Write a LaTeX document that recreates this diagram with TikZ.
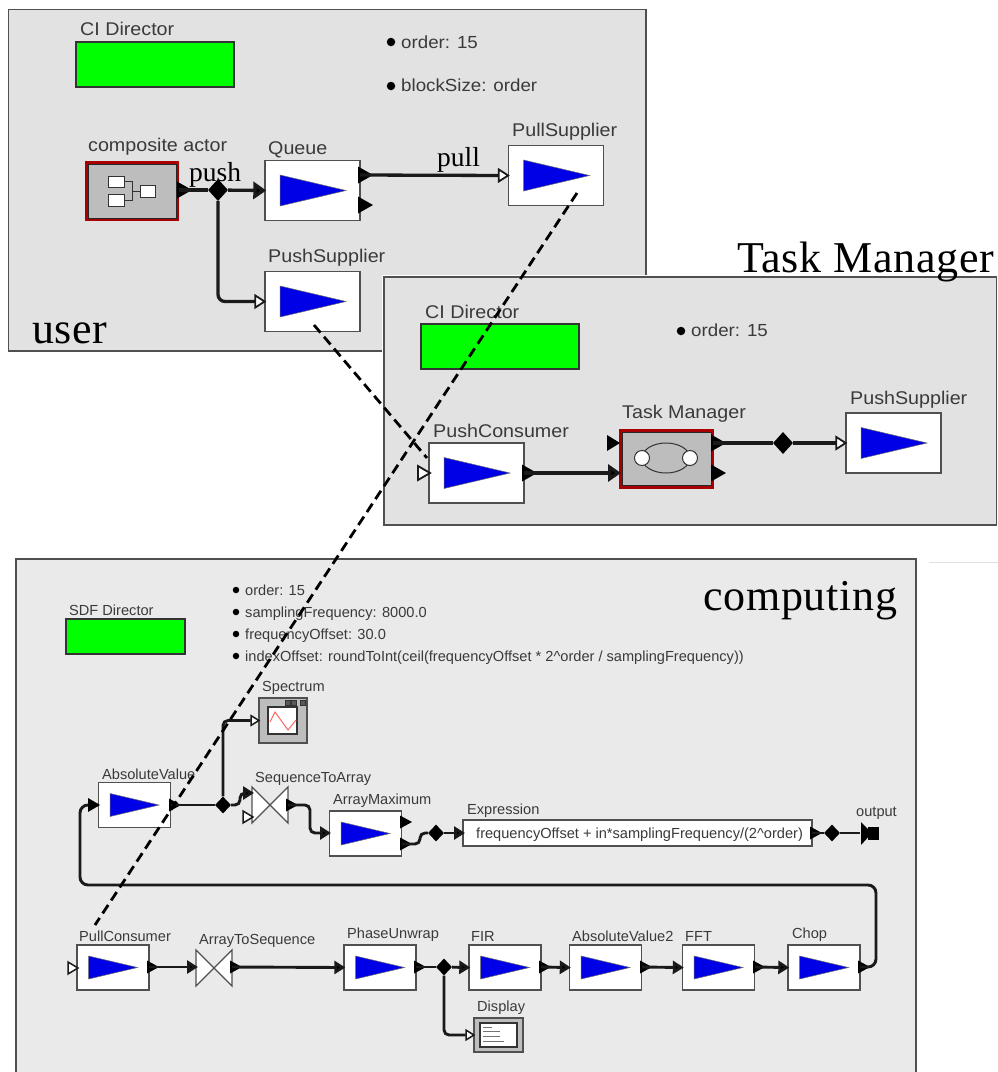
\documentclass[tikz,border=0pt]{standalone}
\usepackage{fontspec}
\setmainfont{Liberation Sans}
\newfontfamily\labf[FakeStretch=1.07]{Liberation Sans}
\newfontfamily\timesf[LetterSpace=1.6]{Liberation Serif}
\newfontfamily\timesm{Liberation Serif}
\usetikzlibrary{arrows.meta,shapes.geometric}
\definecolor{panelA}{HTML}{E2E2E2}
\definecolor{panelB}{HTML}{EAEAEA}
\definecolor{edgec}{HTML}{505050}
\definecolor{txtc}{HTML}{3A3A3A}
\definecolor{wirec}{HTML}{1A1A1A}
\definecolor{dirgreen}{HTML}{00FF00}
\definecolor{triblue}{HTML}{0000E6}
\definecolor{compgray}{HTML}{BDBDBD}
\definecolor{compred}{HTML}{A80000}
\tikzset{
  panelbox/.style={fill=panelA,draw=edgec,line width=1.6pt},
  lbl/.style={anchor=base west,inner sep=0pt,text=txtc,font=\labf\fontsize{18.4}{20}\selectfont},
  lblord/.style={anchor=base west,inner sep=0pt,text=txtc,font=\labf\fontsize{17.5}{20}\selectfont},
  lblsmall/.style={anchor=base west,inner sep=0pt,text=txtc,font=\fontsize{14.6}{16}\selectfont},
  bigtxt/.style={anchor=base west,inner sep=0pt,text=black,font=\timesf\fontsize{44}{46}\selectfont},
  medtxt/.style={anchor=base west,inner sep=0pt,text=black,font=\timesm\fontsize{27.5}{30}\selectfont},
  greenbox/.style={fill=dirgreen,draw=black!80,line width=1.2pt},
  bigbox/.style={rectangle,fill=white,draw=edgec,line width=1.4pt,minimum width=95pt,minimum height=60pt,inner sep=0pt},
  smallbox/.style={rectangle,fill=white,draw=edgec,line width=1.4pt,minimum width=72pt,minimum height=45pt,inner sep=0pt},
  wire/.style={draw=wirec,line width=3.3pt,rounded corners=7pt},
  wiresm/.style={draw=wirec,line width=2.9pt,rounded corners=5pt},
  filledtip/.style={-{Triangle[length=13pt,width=17pt,fill=black]},shorten >=-2pt},
  opentip/.style={-{Triangle[length=12pt,width=15pt,fill=white,line width=1.8pt]},shorten >=-2pt},
  filledtipsm/.style={-{Triangle[length=11pt,width=13pt,fill=black]},shorten >=-2pt},
  opentipsm/.style={-{Triangle[length=10pt,width=12pt,fill=white,line width=1.5pt]},shorten >=-2pt},
  junc/.style={diamond,fill=black,inner sep=0pt,minimum width=20pt,minimum height=22pt},
  juncsm/.style={diamond,fill=black,inner sep=0pt,minimum width=16pt,minimum height=17pt},
  bul/.style={circle,fill=black,inner sep=0pt,minimum size=8.5pt},
  bulsm/.style={circle,fill=black,inner sep=0pt,minimum size=6.5pt},
  dashedconn/.style={draw=black,line width=2.8pt,dash pattern=on 10pt off 5.5pt},
  thinicon/.style={draw=black!80,line width=1pt},
  tie/.style={fill=white,draw=edgec,line width=1.3pt,line join=miter}
}
\newcommand\bigactor[3]{\node[bigbox] (#1) at (#2,#3) {};
  \fill[triblue,draw=black!60,line width=.5pt] (#2-32.5,#3-15.5)--(#2+33.5,#3)--(#2-32.5,#3+15.5)--cycle;}
\newcommand\smallactor[3]{\node[smallbox] (#1) at (#2,#3) {};
  \fill[triblue,draw=black!60,line width=.5pt] (#2-24.5,#3-11.5)--(#2+24.5,#3)--(#2-24.5,#3+11.5)--cycle;}
\newcommand\outport[3]{\coordinate (#1) at (#2,#3);
  \fill[black] (#2-2,#3-8.5)--(#2+13,#3)--(#2-2,#3+8.5)--cycle;}
\newcommand\outportsm[3]{\coordinate (#1) at (#2,#3);
  \fill[black] (#2-2,#3-6.5)--(#2+10,#3)--(#2-2,#3+6.5)--cycle;}
\newcommand\xtie[3]{\coordinate (#1) at (#2,#3);
  \path[tie] (#2-18,#3-18)--(#2+18,#3+18)--(#2+18,#3-18)--(#2-18,#3+18)--cycle;}
\begin{document}
\begin{tikzpicture}[x=1pt,y=-1pt]
\useasboundingbox (0,0) rectangle (998,1072);
\fill[white] (0,0) rectangle (998,1072);

%%% user panel
\path[panelbox] (8.5,9.5) rectangle (646,351);
\path[greenbox] (76,42) rectangle (234,87);
\node[lbl] (uci) at (80,35) {CI Director};
\node[bul] (ub1) at (391,42) {};
\node[lblord] (ut2) at (401,48) {order: 15};
\node[bul] (ub2) at (391,86) {};
\node[lblord] (ut3) at (401,91) {blockSize: order};
\node[lbl] (ucomp) at (88,151) {composite actor};
\node[lbl] (uq) at (268,154) {Queue};
\node[lbl] (upull) at (512,136) {PullSupplier};
\node[lbl] (upush) at (268,262) {PushSupplier};
\node[bigtxt] (uuser) at (32,343) {user};
\node[medtxt] (upusht) at (189,181) {push};
\node[medtxt] (upullt) at (437,166) {pull};

% composite actor
\path[fill=compred] (85,161) rectangle (179,221);
\path[fill=compgray,draw=black!85,line width=1pt] (88,164) rectangle (176,218);
\node[rectangle,minimum width=94pt,minimum height=60pt,inner sep=0pt] (comp) at (132,191) {};
\draw[thinicon] (124,181)--(132,181)--(132,200)--(124,200) (132,191)--(140,191);
\path[thinicon,fill=white] (108,176) rectangle (124,187) (108,194) rectangle (124,206) (140,185) rectangle (155,197);

\bigactor{q}{312.5}{190.5}
\bigactor{ps}{312.5}{301.5}
\bigactor{pl}{556}{175.5}
\outport{qo}{360}{175}
\outport{qo2}{360}{205}
\outport{co}{179}{190}
\node[junc] (j1) at (218,190) {};
\draw[wire] (co) -- (j1);
\draw[wire,filledtip] (j1) -- (q.west);
\draw[wire,opentip] (j1) |- (ps.west);
\draw[wire,opentip] (qo) -- (pl.west);

%%% Task manager panel
\fill[white] (381.5,274.5) rectangle (998,528);
\path[panelbox] (384,277) rectangle (996.5,525);
\node[bigtxt] (tmt) at (737,272) {Task Manager};
\path[greenbox] (421,324) rectangle (579,369);
\node[lbl] (tci) at (425,318) {CI Director};
\node[bul] (tb1) at (681,331) {};
\node[lblord] (tt1) at (691,336) {order: 15};
\node[lbl] (tpc) at (433,437) {PushConsumer};
\node[lbl] (ttm) at (622,418) {Task Manager};
\node[lbl] (tps) at (850,404) {PushSupplier};
\bigactor{pc}{476.5}{473}
\bigactor{tps2}{893.5}{443}
\path[fill=compred] (619,429) rectangle (714,488.5);
\path[fill=compgray,draw=black!85,line width=1pt] (622,432) rectangle (711,485.5);
\node[rectangle,minimum width=95pt,minimum height=59.5pt,inner sep=0pt] (tm) at (666.5,458.75) {};
\draw[thinicon] (666,458) ellipse [x radius=24pt,y radius=15pt];
\path[thinicon,fill=white] (642,458) circle [radius=7.5pt] (690,458) circle [radius=7.5pt];
\outport{pco}{524}{473}
\outport{tmo}{713}{443}
\outport{tmo2}{713}{473}
\coordinate (tmi) at (619,473);
\fill[black] (607,435)--(620,443)--(607,451)--cycle;
\node[junc] (j2) at (783,443) {};
\draw[wire,filledtip] (pco) -- (tmi);
\draw[wire] (tmo) -- (j2);
\draw[wire,opentip] (j2) -- (tps2.west);
\draw[wirec,line width=1.8pt,fill=white] (418,466)--(430,473)--(418,480)--cycle;

%%% computing panel
\draw[black!12,line width=1pt] (929,562) -- (998,562);
\fill[panelB] (16,559) rectangle (916,1072);
\draw[edgec,line width=1.6pt] (16,1072)--(16,559)--(916,559)--(916,1072);
\node[bigtxt] (ccomp) at (703,610) {computing};
\path[greenbox] (66,619) rectangle (185,654);
\node[lblsmall] (csdf) at (69,615) {SDF Director};
\node[bulsm] (cb1) at (236,590) {};
\node[lblsmall] (ct1) at (245,595) {order: 15};
\node[bulsm] (cb2) at (236,612) {};
\node[lblsmall] (ct2) at (245,617) {samplingFrequency: 8000.0};
\node[bulsm] (cb3) at (236,634) {};
\node[lblsmall] (ct3) at (245,639) {frequencyOffset: 30.0};
\node[bulsm] (cb4) at (236,656) {};
\node[lblsmall] (ct4) at (245,661) {indexOffset: roundToInt(ceil(frequencyOffset * 2\^{}order / samplingFrequency))};

\node[lblsmall] (cspec) at (262,691) {Spectrum};
\node[lblsmall] (cavl) at (102,779) {AbsoluteValue};
\node[lblsmall] (cs2a) at (255,782) {SequenceToArray};
\node[lblsmall] (camax) at (333,804) {ArrayMaximum};
\node[lblsmall] (cexpr) at (467,814) {Expression};
\node[lblsmall] (coutl) at (856,816) {output};
\node[lblsmall] (cpcl) at (79,941) {PullConsumer};
\node[lblsmall] (ca2s) at (199,944) {ArrayToSequence};
\node[lblsmall] (cpu) at (347,938) {PhaseUnwrap};
\node[lblsmall] (cfir) at (471,941) {FIR};
\node[lblsmall] (cav2) at (572,941) {AbsoluteValue2};
\node[lblsmall] (cfft) at (685,941) {FFT};
\node[lblsmall] (cchop) at (792,938) {Chop};
\node[lblsmall] (cdisp) at (477,1011) {Display};

% Spectrum
\node[rectangle,fill=compgray,draw=edgec,line width=1.3pt,minimum width=48pt,minimum height=45pt,inner sep=0pt] (spec) at (283,720.5) {};
\path[fill=white,draw=black!80,line width=1.1pt] (268,707) rectangle (297,734);
\draw[red!60,line width=1pt] (270,722)--(275,712)--(288,730)--(296,720);
\path[fill=black!65,draw=black!80,line width=.6pt] (285,700.5) rectangle (290,705) (291,700.5) rectangle (296,705) (300,700.5) rectangle (305,705);
% Display
\node[rectangle,fill=compgray,draw=edgec,line width=1.3pt,minimum width=49pt,minimum height=34pt,inner sep=0pt] (disp) at (498.5,1035) {};
\path[fill=white,draw=black!80,line width=1.1pt] (480,1023) rectangle (517,1047);
\draw[black!55,line width=.8pt] (483,1027)--(492,1027) (483,1031)--(500,1031) (483,1036)--(500,1036) (483,1041)--(504,1041);

% actors
\smallactor{av}{134.5}{805}
\smallactor{amx}{365.5}{833.5}
\smallactor{pcn}{113}{967.5}
\smallactor{pu}{380}{967.5}
\smallactor{fir}{505}{967.5}
\smallactor{av2}{605.5}{967.5}
\smallactor{fft}{718.5}{967.5}
\smallactor{chop}{824}{967.5}
\node[rectangle,fill=white,draw=edgec,line width=1.4pt,minimum width=349pt,minimum height=26pt,inner sep=0pt] (expr) at (637.5,833) {};
\node[lblsmall] (exprt) at (476,838) {frequencyOffset + in*samplingFrequency/(2\^{}order)};
\xtie{s2a}{270}{805}
\xtie{a2s}{214}{968}

% ports
\outportsm{avo}{171}{805}
\outportsm{so}{288}{805}
\outportsm{amo}{402}{844}
\outportsm{amo2}{402}{822}
\outportsm{exo}{812}{833}
\outportsm{pco2}{149}{967}
\outportsm{a2o}{232}{967}
\outportsm{puo}{416}{967}
\outportsm{firo}{541}{967}
\outportsm{av2o}{642}{967}
\outportsm{ffto}{755}{967}
\outportsm{chopo}{860}{967}
\coordinate (si1) at (252,793);
\coordinate (a2i) at (196,967);
\coordinate (amxi) at (329,833);
\coordinate (exi) at (463,833);
\coordinate (cr) at (876,885);
\coordinate (cl) at (80,885);
\coordinate (wup) at (240,805);
\coordinate (wr1) at (310,805);
\coordinate (wr2) at (310,833);
\coordinate (wx1) at (420,844);
\coordinate (wx2) at (420,833);
\coordinate (outc) at (860,833);

\node[juncsm] (j3) at (223,805) {};
\node[juncsm] (j4) at (436,833) {};
\node[juncsm] (j5) at (832,833) {};
\node[juncsm] (j6) at (444,967) {};
\draw[wiresm] (avo) -- (j3);
\draw[wiresm,opentipsm] (j3) |- (spec.west);
\draw[wiresm,filledtipsm] (j3) -- (wup) -- ++(0,-12) -- (si1);
\draw[line width=1.5pt,draw=wirec,fill=white] (243,811)--(253,817)--(243,823)--cycle;
\draw[wiresm,filledtipsm] (so) -- (wr1) -- (wr2) -- (amxi);
\draw[wiresm] (amo) -- (wx1) -- (wx2) -- (j4);
\draw[wiresm,filledtipsm] (j4) -- (exi);
\draw[wiresm] (exo) -- (j5);
\draw[wiresm] (j5) -- (outc);
\fill[black] (861,822)--(872,833)--(861,845)--cycle;
\fill[black] (868,827) rectangle (879,840);
\draw[wiresm,rounded corners=8pt] (chopo) -| (cr) -- (cl) |- (av.west);
\fill[black] (88,798)--(100,805)--(88,812)--cycle;
\draw[line width=1.5pt,draw=wirec,fill=white] (68,962)--(78,968)--(68,974)--cycle;
\draw[wiresm,filledtipsm] (pco2) -- (a2i);
\draw[wiresm,filledtipsm] (a2o) -- (pu.west);
\draw[wiresm] (puo) -- (j6);
\draw[wiresm,filledtipsm] (j6) -- (fir.west);
\draw[wiresm,filledtipsm] (firo) -- (av2.west);
\draw[wiresm,filledtipsm] (av2o) -- (fft.west);
\draw[wiresm,filledtipsm] (ffto) -- (chop.west);
\draw[wiresm,opentipsm] (j6) |- (disp.west);

%%% dashed links
\coordinate (da) at (577,193);
\coordinate (db) at (95,925);
\coordinate (dc) at (314,325);
\coordinate (dd) at (427,458);
\draw[dashedconn] (da) -- (db);
\draw[dashedconn] (dc) -- (dd);
\end{tikzpicture}
\end{document}
